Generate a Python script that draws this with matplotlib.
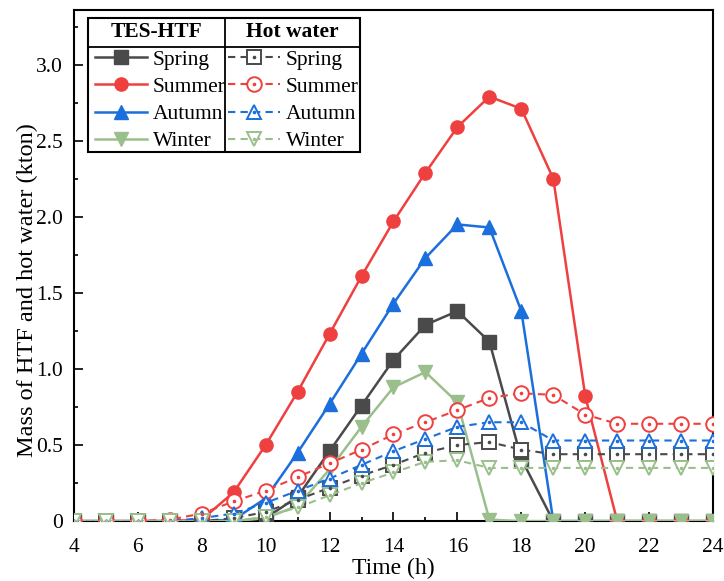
import numpy as np
import matplotlib.pyplot as plt
from matplotlib.patches import Rectangle
from matplotlib.lines import Line2D
from matplotlib.legend_handler import HandlerTuple

plt.rcParams['font.family'] = ['Liberation Serif', 'DejaVu Serif']

hours = list(range(4, 25))
seasons = ['Spring', 'Summer', 'Autumn', 'Winter']

# TES-HTF mass (kton)
tes_spring = [0, 0, 0, 0, 0, 0, 0.02, 0.16, 0.46, 0.76, 1.06, 1.29, 1.38, 1.18, 0.41, 0, 0, 0, 0, 0, 0]
tes_summer = [0, 0, 0, 0, 0.01, 0.19, 0.50, 0.85, 1.23, 1.61, 1.97, 2.29, 2.59, 2.79, 2.71, 2.25, 0.82, 0, 0, 0, 0]
tes_autumn = [0, 0, 0, 0, 0, 0.01, 0.15, 0.45, 0.77, 1.10, 1.43, 1.73, 1.95, 1.93, 1.38, 0, 0, 0, 0, 0, 0]
tes_winter = [0, 0, 0, 0, 0, 0, 0.02, 0.10, 0.34, 0.62, 0.88, 0.98, 0.78, 0.01, 0, 0, 0, 0, 0, 0, 0]

# hot water mass (kton)
hw_spring = [0, 0, 0, 0, 0, 0.02, 0.06, 0.14, 0.22, 0.30, 0.37, 0.45, 0.50, 0.52, 0.47, 0.44, 0.44, 0.44, 0.44, 0.44, 0.44]
hw_summer = [0, 0, 0, 0.01, 0.05, 0.13, 0.20, 0.29, 0.38, 0.47, 0.57, 0.65, 0.73, 0.81, 0.84, 0.83, 0.70, 0.64, 0.64, 0.64, 0.64]
hw_autumn = [0, 0, 0, 0, 0.02, 0.05, 0.12, 0.20, 0.28, 0.37, 0.46, 0.54, 0.62, 0.65, 0.65, 0.53, 0.53, 0.53, 0.53, 0.53, 0.53]
hw_winter = [0, 0, 0, 0, 0, 0, 0.03, 0.09, 0.17, 0.25, 0.32, 0.39, 0.40, 0.35, 0.35, 0.35, 0.35, 0.35, 0.35, 0.35, 0.35]

colors = ['#4a4a4a', '#ef4040', '#1b6fdd', '#9bbf8c']
markers = ['s', 'o', '^', 'v']
tes = [tes_spring, tes_summer, tes_autumn, tes_winter]
hw = [hw_spring, hw_summer, hw_autumn, hw_winter]

fig = plt.figure(figsize=(7.24, 5.81), dpi=100)
ax = fig.add_axes([0.102, 0.103, 0.883, 0.880])

tes_handles = []
hw_handles = []
for i in range(4):
    h, = ax.plot(hours, tes[i], color=colors[i], marker=markers[i], markersize=9.5,
                 linewidth=1.8, zorder=3)
    tes_handles.append(h)
for i in range(4):
    h1, = ax.plot(hours, hw[i], color=colors[i], marker=markers[i], markersize=10.5,
                  markerfacecolor='white', markeredgewidth=1.4, linewidth=1.5,
                  linestyle=(0, (3.5, 2.5)), zorder=4)
    h2, = ax.plot(hours, hw[i], color=colors[i], marker='o', markersize=1.6,
                  linestyle='none', zorder=5)
    hw_handles.append((h1, h2))

ax.set_xlim(4, 24)
ax.set_ylim(0, 3.36)
ax.set_xticks(range(4, 25, 2))
ax.set_xticks(range(5, 24, 2), minor=True)
ax.set_yticks([0, 0.5, 1.0, 1.5, 2.0, 2.5, 3.0])
ax.set_yticklabels(['0', '0.5', '1.0', '1.5', '2.0', '2.5', '3.0'])
ax.set_yticks(np.arange(0.25, 3.3, 0.5), minor=True)
ax.tick_params(which='both', direction='in', labelsize=15.5, width=1.2)
ax.tick_params(which='major', length=6.5)
ax.tick_params(which='minor', length=3)
ax.tick_params(axis='x', which='major', pad=12)
ax.tick_params(axis='y', which='major', pad=8)
for s in ax.spines.values():
    s.set_linewidth(1.5)

ax.set_xlabel('Time (h)', fontsize=17, labelpad=1)
ax.set_ylabel('Mass of HTF and hot water (kton)', fontsize=17.5)
ax.yaxis.set_label_coords(-0.056, 0.452)

# table-style legend
leg_kw = dict(loc='upper left', frameon=False, fontsize=15.5, handlelength=2.4,
              handletextpad=0.3, labelspacing=0.33, borderpad=0, borderaxespad=0)
leg1 = ax.legend(tes_handles, seasons, bbox_to_anchor=(0.033, 0.922), **leg_kw)
ax.add_artist(leg1)
leg2 = ax.legend(hw_handles, seasons, bbox_to_anchor=(0.241, 0.922),
                 handler_map={tuple: HandlerTuple(ndivide=1, pad=0)}, **leg_kw)

ax.add_patch(Rectangle((0.022, 0.722), 0.426, 0.262, transform=ax.transAxes,
                       fill=False, edgecolor='black', linewidth=1.5, zorder=6))
ax.add_line(Line2D([0.022, 0.448], [0.928, 0.928], transform=ax.transAxes,
                   color='black', linewidth=1.3, zorder=6))
ax.add_line(Line2D([0.236, 0.236], [0.722, 0.984], transform=ax.transAxes,
                   color='black', linewidth=1.3, zorder=6))
ax.text(0.129, 0.956, 'TES-HTF', transform=ax.transAxes, ha='center', va='center',
        fontsize=15.5, fontweight='bold')
ax.text(0.342, 0.956, 'Hot water', transform=ax.transAxes, ha='center', va='center',
        fontsize=15.5, fontweight='bold')

fig.savefig('out.png', dpi=100)
